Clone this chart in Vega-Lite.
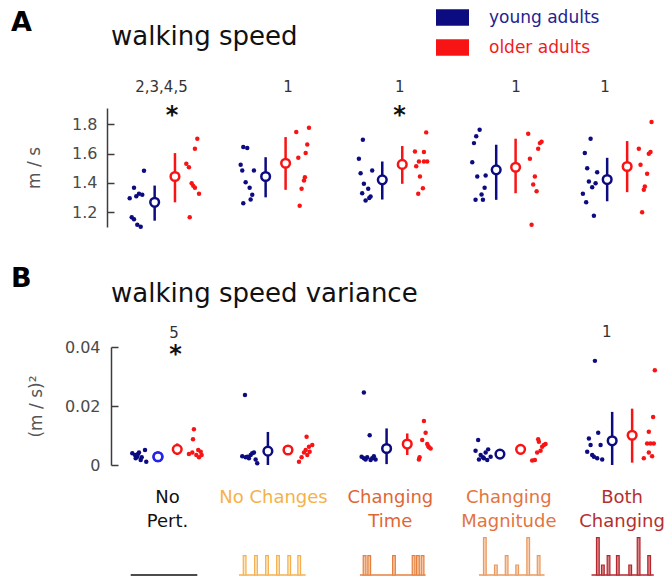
{
  "$schema": "https://vega.github.io/schema/vega-lite/v6.json",
  "autosize": {"type": "pad"},
  "padding": {"left": 11, "top": 1, "right": 10, "bottom": 0},
  "config": {
    "font": "DejaVu Sans",
    "view": {"stroke": null},
    "axis": {
      "grid": false,
      "domainColor": "#3c3c3c",
      "domainWidth": 1.5,
      "tickColor": "#3c3c3c",
      "tickWidth": 1.5,
      "labelColor": "#4a4a4a",
      "labelFontSize": 16,
      "labelOverlap": false,
      "titleColor": "#555555",
      "titleFontSize": 17,
      "titleFontWeight": "normal"
    },
    "text": {"font": "DejaVu Sans"}
  },
  "datasets": {
    "speedDots": [
      {"g": 1, "age": "young adults", "pos": 0.826, "v": 1.483},
      {"g": 1, "age": "young adults", "pos": 0.738, "v": 1.367},
      {"g": 1, "age": "young adults", "pos": 0.700, "v": 1.296},
      {"g": 1, "age": "young adults", "pos": 0.758, "v": 1.309},
      {"g": 1, "age": "young adults", "pos": 0.782, "v": 1.326},
      {"g": 1, "age": "young adults", "pos": 0.811, "v": 1.319},
      {"g": 1, "age": "young adults", "pos": 0.718, "v": 1.166},
      {"g": 1, "age": "young adults", "pos": 0.738, "v": 1.152},
      {"g": 1, "age": "young adults", "pos": 0.767, "v": 1.116},
      {"g": 1, "age": "young adults", "pos": 0.797, "v": 1.102},
      {"g": 1, "age": "older adults", "pos": 1.296, "v": 1.701},
      {"g": 1, "age": "older adults", "pos": 1.275, "v": 1.633},
      {"g": 1, "age": "older adults", "pos": 1.199, "v": 1.530},
      {"g": 1, "age": "older adults", "pos": 1.222, "v": 1.507},
      {"g": 1, "age": "older adults", "pos": 1.246, "v": 1.398},
      {"g": 1, "age": "older adults", "pos": 1.260, "v": 1.380},
      {"g": 1, "age": "older adults", "pos": 1.275, "v": 1.367},
      {"g": 1, "age": "older adults", "pos": 1.311, "v": 1.326},
      {"g": 1, "age": "older adults", "pos": 1.229, "v": 1.166},
      {"g": 2, "age": "young adults", "pos": 1.701, "v": 1.644},
      {"g": 2, "age": "young adults", "pos": 1.736, "v": 1.637},
      {"g": 2, "age": "young adults", "pos": 1.678, "v": 1.523},
      {"g": 2, "age": "young adults", "pos": 1.692, "v": 1.485},
      {"g": 2, "age": "young adults", "pos": 1.795, "v": 1.485},
      {"g": 2, "age": "young adults", "pos": 1.722, "v": 1.405},
      {"g": 2, "age": "young adults", "pos": 1.757, "v": 1.367},
      {"g": 2, "age": "young adults", "pos": 1.780, "v": 1.319},
      {"g": 2, "age": "young adults", "pos": 1.766, "v": 1.287},
      {"g": 2, "age": "young adults", "pos": 1.701, "v": 1.261},
      {"g": 2, "age": "older adults", "pos": 2.280, "v": 1.776},
      {"g": 2, "age": "older adults", "pos": 2.168, "v": 1.746},
      {"g": 2, "age": "older adults", "pos": 2.265, "v": 1.662},
      {"g": 2, "age": "older adults", "pos": 2.251, "v": 1.603},
      {"g": 2, "age": "older adults", "pos": 2.186, "v": 1.571},
      {"g": 2, "age": "older adults", "pos": 2.244, "v": 1.439},
      {"g": 2, "age": "older adults", "pos": 2.236, "v": 1.416},
      {"g": 2, "age": "older adults", "pos": 2.215, "v": 1.360},
      {"g": 2, "age": "older adults", "pos": 2.198, "v": 1.244},
      {"g": 3, "age": "young adults", "pos": 2.755, "v": 1.694},
      {"g": 3, "age": "young adults", "pos": 2.720, "v": 1.565},
      {"g": 3, "age": "young adults", "pos": 2.837, "v": 1.485},
      {"g": 3, "age": "young adults", "pos": 2.735, "v": 1.466},
      {"g": 3, "age": "young adults", "pos": 2.764, "v": 1.394},
      {"g": 3, "age": "young adults", "pos": 2.802, "v": 1.360},
      {"g": 3, "age": "young adults", "pos": 2.749, "v": 1.330},
      {"g": 3, "age": "young adults", "pos": 2.823, "v": 1.307},
      {"g": 3, "age": "young adults", "pos": 2.779, "v": 1.280},
      {"g": 3, "age": "young adults", "pos": 2.811, "v": 1.298},
      {"g": 3, "age": "older adults", "pos": 3.313, "v": 1.744},
      {"g": 3, "age": "older adults", "pos": 3.214, "v": 1.614},
      {"g": 3, "age": "older adults", "pos": 3.293, "v": 1.610},
      {"g": 3, "age": "older adults", "pos": 3.249, "v": 1.546},
      {"g": 3, "age": "older adults", "pos": 3.293, "v": 1.546},
      {"g": 3, "age": "older adults", "pos": 3.322, "v": 1.546},
      {"g": 3, "age": "older adults", "pos": 3.225, "v": 1.514},
      {"g": 3, "age": "older adults", "pos": 3.258, "v": 1.444},
      {"g": 3, "age": "older adults", "pos": 3.284, "v": 1.364},
      {"g": 3, "age": "older adults", "pos": 3.243, "v": 1.326},
      {"g": 4, "age": "young adults", "pos": 3.784, "v": 1.762},
      {"g": 4, "age": "young adults", "pos": 3.754, "v": 1.717},
      {"g": 4, "age": "young adults", "pos": 3.734, "v": 1.671},
      {"g": 4, "age": "young adults", "pos": 3.719, "v": 1.541},
      {"g": 4, "age": "young adults", "pos": 3.837, "v": 1.450},
      {"g": 4, "age": "young adults", "pos": 3.763, "v": 1.444},
      {"g": 4, "age": "young adults", "pos": 3.828, "v": 1.367},
      {"g": 4, "age": "young adults", "pos": 3.801, "v": 1.321},
      {"g": 4, "age": "young adults", "pos": 3.748, "v": 1.285},
      {"g": 4, "age": "young adults", "pos": 3.813, "v": 1.285},
      {"g": 4, "age": "older adults", "pos": 4.212, "v": 1.735},
      {"g": 4, "age": "older adults", "pos": 4.315, "v": 1.671},
      {"g": 4, "age": "older adults", "pos": 4.330, "v": 1.680},
      {"g": 4, "age": "older adults", "pos": 4.300, "v": 1.633},
      {"g": 4, "age": "older adults", "pos": 4.227, "v": 1.565},
      {"g": 4, "age": "older adults", "pos": 4.271, "v": 1.444},
      {"g": 4, "age": "older adults", "pos": 4.256, "v": 1.389},
      {"g": 4, "age": "older adults", "pos": 4.286, "v": 1.343},
      {"g": 4, "age": "older adults", "pos": 4.242, "v": 1.116},
      {"g": 5, "age": "young adults", "pos": 4.762, "v": 1.701},
      {"g": 5, "age": "young adults", "pos": 4.711, "v": 1.603},
      {"g": 5, "age": "young adults", "pos": 4.732, "v": 1.500},
      {"g": 5, "age": "young adults", "pos": 4.820, "v": 1.473},
      {"g": 5, "age": "young adults", "pos": 4.747, "v": 1.410},
      {"g": 5, "age": "young adults", "pos": 4.806, "v": 1.398},
      {"g": 5, "age": "young adults", "pos": 4.776, "v": 1.371},
      {"g": 5, "age": "young adults", "pos": 4.694, "v": 1.326},
      {"g": 5, "age": "young adults", "pos": 4.723, "v": 1.268},
      {"g": 5, "age": "young adults", "pos": 4.791, "v": 1.177},
      {"g": 5, "age": "older adults", "pos": 5.299, "v": 1.814},
      {"g": 5, "age": "older adults", "pos": 5.187, "v": 1.633},
      {"g": 5, "age": "older adults", "pos": 5.290, "v": 1.610},
      {"g": 5, "age": "older adults", "pos": 5.275, "v": 1.599},
      {"g": 5, "age": "older adults", "pos": 5.202, "v": 1.523},
      {"g": 5, "age": "older adults", "pos": 5.260, "v": 1.462},
      {"g": 5, "age": "older adults", "pos": 5.240, "v": 1.375},
      {"g": 5, "age": "older adults", "pos": 5.231, "v": 1.353},
      {"g": 5, "age": "older adults", "pos": 5.216, "v": 1.200}
    ],
    "speedMeans": [
      {"g": 1, "age": "young adults", "pos": 0.920, "mean": 1.268, "lo": 1.143, "hi": 1.382},
      {"g": 1, "age": "older adults", "pos": 1.099, "mean": 1.444, "lo": 1.268, "hi": 1.603},
      {"g": 2, "age": "young adults", "pos": 1.898, "mean": 1.444, "lo": 1.302, "hi": 1.575},
      {"g": 2, "age": "older adults", "pos": 2.074, "mean": 1.534, "lo": 1.353, "hi": 1.712},
      {"g": 3, "age": "young adults", "pos": 2.926, "mean": 1.421, "lo": 1.287, "hi": 1.546},
      {"g": 3, "age": "older adults", "pos": 3.102, "mean": 1.526, "lo": 1.394, "hi": 1.651},
      {"g": 4, "age": "young adults", "pos": 3.930, "mean": 1.489, "lo": 1.285, "hi": 1.660},
      {"g": 4, "age": "older adults", "pos": 4.101, "mean": 1.507, "lo": 1.330, "hi": 1.701},
      {"g": 5, "age": "young adults", "pos": 4.908, "mean": 1.423, "lo": 1.275, "hi": 1.571},
      {"g": 5, "age": "older adults", "pos": 5.084, "mean": 1.512, "lo": 1.337, "hi": 1.685}
    ],
    "speedNotes": [
      {"label": "2,3,4,5", "pos": 0.980, "v": 2.053},
      {"label": "1", "pos": 2.095, "v": 2.053},
      {"label": "1", "pos": 3.081, "v": 2.053},
      {"label": "1", "pos": 4.104, "v": 2.053},
      {"label": "1", "pos": 4.888, "v": 2.053}
    ],
    "speedStars": [
      {"pos": 1.073, "v": 1.854},
      {"pos": 3.079, "v": 1.854}
    ],
    "varDots": [
      {"g": 1, "age": "young adults", "pos": 0.723, "v": 0.0040},
      {"g": 1, "age": "young adults", "pos": 0.747, "v": 0.0034},
      {"g": 1, "age": "young adults", "pos": 0.767, "v": 0.0028},
      {"g": 1, "age": "young adults", "pos": 0.782, "v": 0.0042},
      {"g": 1, "age": "young adults", "pos": 0.806, "v": 0.0026},
      {"g": 1, "age": "young adults", "pos": 0.835, "v": 0.0051},
      {"g": 1, "age": "young adults", "pos": 0.846, "v": 0.0011},
      {"g": 1, "age": "young adults", "pos": 0.797, "v": 0.0017},
      {"g": 1, "age": "young adults", "pos": 0.753, "v": 0.0023},
      {"g": 1, "age": "young adults", "pos": 0.773, "v": 0.0037},
      {"g": 1, "age": "older adults", "pos": 1.266, "v": 0.0121},
      {"g": 1, "age": "older adults", "pos": 1.258, "v": 0.0087},
      {"g": 1, "age": "older adults", "pos": 1.222, "v": 0.0037},
      {"g": 1, "age": "older adults", "pos": 1.252, "v": 0.0042},
      {"g": 1, "age": "older adults", "pos": 1.287, "v": 0.0034},
      {"g": 1, "age": "older adults", "pos": 1.326, "v": 0.0045},
      {"g": 1, "age": "older adults", "pos": 1.334, "v": 0.0034},
      {"g": 1, "age": "older adults", "pos": 1.311, "v": 0.0026},
      {"g": 1, "age": "older adults", "pos": 1.304, "v": 0.0051},
      {"g": 2, "age": "young adults", "pos": 1.716, "v": 0.0237},
      {"g": 2, "age": "young adults", "pos": 1.692, "v": 0.0030},
      {"g": 2, "age": "young adults", "pos": 1.722, "v": 0.0026},
      {"g": 2, "age": "young adults", "pos": 1.766, "v": 0.0034},
      {"g": 2, "age": "young adults", "pos": 1.780, "v": 0.0040},
      {"g": 2, "age": "young adults", "pos": 1.810, "v": 0.0019},
      {"g": 2, "age": "young adults", "pos": 1.824, "v": 0.0006},
      {"g": 2, "age": "young adults", "pos": 1.795, "v": 0.0042},
      {"g": 2, "age": "young adults", "pos": 1.751, "v": 0.0023},
      {"g": 2, "age": "young adults", "pos": 1.736, "v": 0.0028},
      {"g": 2, "age": "older adults", "pos": 2.259, "v": 0.0096},
      {"g": 2, "age": "older adults", "pos": 2.309, "v": 0.0068},
      {"g": 2, "age": "older adults", "pos": 2.280, "v": 0.0062},
      {"g": 2, "age": "older adults", "pos": 2.251, "v": 0.0051},
      {"g": 2, "age": "older adults", "pos": 2.236, "v": 0.0042},
      {"g": 2, "age": "older adults", "pos": 2.265, "v": 0.0034},
      {"g": 2, "age": "older adults", "pos": 2.215, "v": 0.0026},
      {"g": 2, "age": "older adults", "pos": 2.192, "v": 0.0011},
      {"g": 2, "age": "older adults", "pos": 2.286, "v": 0.0045},
      {"g": 3, "age": "young adults", "pos": 2.764, "v": 0.0246},
      {"g": 3, "age": "young adults", "pos": 2.815, "v": 0.0101},
      {"g": 3, "age": "young adults", "pos": 2.744, "v": 0.0028},
      {"g": 3, "age": "young adults", "pos": 2.764, "v": 0.0023},
      {"g": 3, "age": "young adults", "pos": 2.793, "v": 0.0026},
      {"g": 3, "age": "young adults", "pos": 2.823, "v": 0.0017},
      {"g": 3, "age": "young adults", "pos": 2.852, "v": 0.0030},
      {"g": 3, "age": "young adults", "pos": 2.867, "v": 0.0019},
      {"g": 3, "age": "young adults", "pos": 2.837, "v": 0.0023},
      {"g": 3, "age": "young adults", "pos": 2.779, "v": 0.0019},
      {"g": 3, "age": "older adults", "pos": 3.293, "v": 0.0149},
      {"g": 3, "age": "older adults", "pos": 3.308, "v": 0.0109},
      {"g": 3, "age": "older adults", "pos": 3.278, "v": 0.0085},
      {"g": 3, "age": "older adults", "pos": 3.331, "v": 0.0064},
      {"g": 3, "age": "older adults", "pos": 3.352, "v": 0.0056},
      {"g": 3, "age": "older adults", "pos": 3.255, "v": 0.0026},
      {"g": 3, "age": "older adults", "pos": 3.249, "v": 0.0019},
      {"g": 3, "age": "older adults", "pos": 3.322, "v": 0.0071},
      {"g": 3, "age": "older adults", "pos": 3.337, "v": 0.0060},
      {"g": 4, "age": "young adults", "pos": 3.771, "v": 0.0085},
      {"g": 4, "age": "young adults", "pos": 3.748, "v": 0.0048},
      {"g": 4, "age": "young adults", "pos": 3.793, "v": 0.0034},
      {"g": 4, "age": "young adults", "pos": 3.813, "v": 0.0026},
      {"g": 4, "age": "young adults", "pos": 3.837, "v": 0.0042},
      {"g": 4, "age": "young adults", "pos": 3.859, "v": 0.0053},
      {"g": 4, "age": "young adults", "pos": 3.881, "v": 0.0028},
      {"g": 4, "age": "young adults", "pos": 3.778, "v": 0.0019},
      {"g": 4, "age": "young adults", "pos": 3.851, "v": 0.0017},
      {"g": 4, "age": "young adults", "pos": 3.822, "v": 0.0023},
      {"g": 4, "age": "older adults", "pos": 4.300, "v": 0.0087},
      {"g": 4, "age": "older adults", "pos": 4.365, "v": 0.0071},
      {"g": 4, "age": "older adults", "pos": 4.335, "v": 0.0062},
      {"g": 4, "age": "older adults", "pos": 4.321, "v": 0.0048},
      {"g": 4, "age": "older adults", "pos": 4.291, "v": 0.0042},
      {"g": 4, "age": "older adults", "pos": 4.271, "v": 0.0017},
      {"g": 4, "age": "older adults", "pos": 4.247, "v": 0.0015},
      {"g": 4, "age": "older adults", "pos": 4.350, "v": 0.0068},
      {"g": 4, "age": "older adults", "pos": 4.306, "v": 0.0079},
      {"g": 5, "age": "young adults", "pos": 4.800, "v": 0.0353},
      {"g": 5, "age": "young adults", "pos": 4.829, "v": 0.0109},
      {"g": 5, "age": "young adults", "pos": 4.747, "v": 0.0090},
      {"g": 5, "age": "young adults", "pos": 4.850, "v": 0.0068},
      {"g": 5, "age": "young adults", "pos": 4.762, "v": 0.0068},
      {"g": 5, "age": "young adults", "pos": 4.732, "v": 0.0045},
      {"g": 5, "age": "young adults", "pos": 4.776, "v": 0.0034},
      {"g": 5, "age": "young adults", "pos": 4.820, "v": 0.0023},
      {"g": 5, "age": "young adults", "pos": 4.864, "v": 0.0019},
      {"g": 5, "age": "young adults", "pos": 4.791, "v": 0.0028},
      {"g": 5, "age": "older adults", "pos": 5.328, "v": 0.0321},
      {"g": 5, "age": "older adults", "pos": 5.313, "v": 0.0163},
      {"g": 5, "age": "older adults", "pos": 5.275, "v": 0.0113},
      {"g": 5, "age": "older adults", "pos": 5.260, "v": 0.0073},
      {"g": 5, "age": "older adults", "pos": 5.319, "v": 0.0073},
      {"g": 5, "age": "older adults", "pos": 5.290, "v": 0.0073},
      {"g": 5, "age": "older adults", "pos": 5.304, "v": 0.0030},
      {"g": 5, "age": "older adults", "pos": 5.231, "v": 0.0023},
      {"g": 5, "age": "older adults", "pos": 5.275, "v": 0.0042}
    ],
    "varMeans": [
      {"g": 1, "age": "young adults", "pos": 0.949, "mean": 0.0028, "lo": 0.0016, "hi": 0.0040},
      {"g": 1, "age": "older adults", "pos": 1.119, "mean": 0.0053, "lo": 0.0034, "hi": 0.0073},
      {"g": 2, "age": "young adults", "pos": 1.918, "mean": 0.0047, "lo": 0.0000, "hi": 0.0112},
      {"g": 2, "age": "older adults", "pos": 2.095, "mean": 0.0051, "lo": 0.0038, "hi": 0.0064},
      {"g": 3, "age": "young adults", "pos": 2.964, "mean": 0.0056, "lo": 0.0003, "hi": 0.0124},
      {"g": 3, "age": "older adults", "pos": 3.146, "mean": 0.0071, "lo": 0.0034, "hi": 0.0107},
      {"g": 4, "age": "young adults", "pos": 3.963, "mean": 0.0037, "lo": 0.0024, "hi": 0.0050},
      {"g": 4, "age": "older adults", "pos": 4.145, "mean": 0.0053, "lo": 0.0036, "hi": 0.0070},
      {"g": 5, "age": "young adults", "pos": 4.952, "mean": 0.0082, "lo": 0.0000, "hi": 0.0180},
      {"g": 5, "age": "older adults", "pos": 5.128, "mean": 0.0101, "lo": 0.0008, "hi": 0.0191}
    ],
    "varNotes": [
      {"label": "5", "pos": 1.090, "v": 0.0446},
      {"label": "1", "pos": 4.905, "v": 0.0451}
    ],
    "varStars": [
      {"pos": 1.105, "v": 0.0372}
    ],
    "baselines": [
      {"cond": "No Pert.", "t0": 0.709, "t1": 1.296, "level": 0},
      {"cond": "No Changes", "t0": 1.663, "t1": 2.251, "level": 0},
      {"cond": "Changing Time", "t0": 2.729, "t1": 3.308, "level": 0},
      {"cond": "Changing Magnitude", "t0": 3.778, "t1": 4.356, "level": 0},
      {"cond": "Both Changing", "t0": 4.770, "t1": 5.319, "level": 0}
    ],
    "pulses": [
      {"cond": "No Changes", "t0": 1.701, "t1": 1.725, "level": 0, "amp": 1.93},
      {"cond": "No Changes", "t0": 1.801, "t1": 1.825, "level": 0, "amp": 1.93},
      {"cond": "No Changes", "t0": 1.898, "t1": 1.922, "level": 0, "amp": 1.93},
      {"cond": "No Changes", "t0": 1.995, "t1": 2.019, "level": 0, "amp": 1.93},
      {"cond": "No Changes", "t0": 2.094, "t1": 2.118, "level": 0, "amp": 1.93},
      {"cond": "No Changes", "t0": 2.182, "t1": 2.206, "level": 0, "amp": 1.93},
      {"cond": "Changing Time", "t0": 2.758, "t1": 2.782, "level": 0, "amp": 1.93},
      {"cond": "Changing Time", "t0": 2.799, "t1": 2.823, "level": 0, "amp": 1.93},
      {"cond": "Changing Time", "t0": 3.017, "t1": 3.041, "level": 0, "amp": 1.93},
      {"cond": "Changing Time", "t0": 3.190, "t1": 3.214, "level": 0, "amp": 1.93},
      {"cond": "Changing Time", "t0": 3.228, "t1": 3.252, "level": 0, "amp": 1.93},
      {"cond": "Changing Time", "t0": 3.269, "t1": 3.293, "level": 0, "amp": 1.93},
      {"cond": "Changing Magnitude", "t0": 3.818, "t1": 3.842, "level": 0, "amp": 3.73},
      {"cond": "Changing Magnitude", "t0": 3.915, "t1": 3.939, "level": 0, "amp": 1.0},
      {"cond": "Changing Magnitude", "t0": 4.010, "t1": 4.034, "level": 0, "amp": 1.93},
      {"cond": "Changing Magnitude", "t0": 4.103, "t1": 4.127, "level": 0, "amp": 1.0},
      {"cond": "Changing Magnitude", "t0": 4.200, "t1": 4.224, "level": 0, "amp": 3.73},
      {"cond": "Changing Magnitude", "t0": 4.292, "t1": 4.316, "level": 0, "amp": 1.93},
      {"cond": "Both Changing", "t0": 4.814, "t1": 4.838, "level": 0, "amp": 3.73},
      {"cond": "Both Changing", "t0": 4.858, "t1": 4.882, "level": 0, "amp": 1.0},
      {"cond": "Both Changing", "t0": 4.908, "t1": 4.932, "level": 0, "amp": 1.93},
      {"cond": "Both Changing", "t0": 4.990, "t1": 5.014, "level": 0, "amp": 1.93},
      {"cond": "Both Changing", "t0": 5.099, "t1": 5.123, "level": 0, "amp": 1.0},
      {"cond": "Both Changing", "t0": 5.173, "t1": 5.197, "level": 0, "amp": 3.73},
      {"cond": "Both Changing", "t0": 5.266, "t1": 5.290, "level": 0, "amp": 1.93}
    ]
  },
  "spacing": 35,
  "vconcat": [
    {
      "width": 556,
      "height": 119,
      "layer": [
        {
          "data": {"name": "speedMeans"},
          "mark": {"type": "rule", "strokeWidth": 2.5},
          "encoding": {
            "x": {"field": "pos", "type": "quantitative", "scale": {"domain": [0.5, 5.4], "nice": false, "zero": false}, "axis": null},
            "y": {
              "field": "lo", "type": "quantitative",
              "scale": {"domain": [1.1, 1.91], "nice": false, "zero": false},
              "axis": {"tickCount": 4, "format": ".1f", "tickSize": -7, "labelPadding": 17, "labelOverlap": false, "labelSeparation": 0, "labelBound": false, "labelFlush": false, "title": "m / s", "titlePadding": 28}
            },
            "y2": {"field": "hi"},
            "color": {"field": "age", "type": "nominal", "scale": {"domain": ["young adults", "older adults"], "range": ["#0c0c80", "#f81414"]}}
          }
        },
        {
          "data": {"name": "speedDots"},
          "mark": {"type": "circle", "size": 20, "opacity": 1},
          "encoding": {
            "x": {"field": "pos", "type": "quantitative"},
            "y": {"field": "v", "type": "quantitative"},
            "color": {
              "field": "age", "type": "nominal",
              "legend": {
                "orient": "none", "legendX": 329, "legendY": -107, "title": null,
                "symbolType": "M-1,-0.5H1V0.5H-1Z", "symbolSize": 1089, "symbolStrokeWidth": 0,
                "labelFontSize": 17, "labelOffset": 20, "rowPadding": 5, "padding": 0,
                "labelColor": {"expr": "datum.label == 'young adults' ? '#23238f' : '#f01c1c'"}
              }
            }
          }
        },
        {
          "data": {"name": "speedMeans"},
          "mark": {"type": "point", "shape": "circle", "filled": false, "fill": "white", "fillOpacity": 1, "size": 75, "strokeWidth": 2.5, "opacity": 1},
          "encoding": {
            "x": {"field": "pos", "type": "quantitative"},
            "y": {"field": "mean", "type": "quantitative"},
            "color": {"field": "age", "type": "nominal"}
          }
        },
        {
          "data": {"name": "speedNotes"},
          "mark": {"type": "text", "fontSize": 15, "color": "#333333", "baseline": "middle"},
          "encoding": {
            "x": {"field": "pos", "type": "quantitative"},
            "y": {"field": "v", "type": "quantitative"},
            "text": {"field": "label"}
          }
        },
        {
          "data": {"name": "speedStars"},
          "mark": {"type": "text", "fontSize": 24, "fontWeight": "bold", "color": "#111111", "baseline": "middle", "text": "*"},
          "encoding": {
            "x": {"field": "pos", "type": "quantitative"},
            "y": {"field": "v", "type": "quantitative"}
          }
        },
        {
          "data": {"values": [{"letter": "A", "heading": "walking speed", "lx": -0.346, "ly": 2.489, "hx": 0.535, "hy": 2.339}]},
          "mark": {"type": "text", "fontSize": 27, "fontWeight": "bold", "color": "#000000", "align": "left", "baseline": "middle"},
          "encoding": {"x": {"field": "lx", "type": "quantitative"}, "y": {"field": "ly", "type": "quantitative"}, "text": {"field": "letter"}}
        },
        {
          "data": {"values": [{"letter": "A", "heading": "walking speed", "lx": -0.346, "ly": 2.489, "hx": 0.535, "hy": 2.339}]},
          "mark": {"type": "text", "fontSize": 26, "color": "#111111", "align": "left", "baseline": "alphabetic"},
          "encoding": {"x": {"field": "hx", "type": "quantitative"}, "y": {"field": "hy", "type": "quantitative"}, "text": {"field": "heading"}}
        }
      ]
    },
    {
      "spacing": 5,
      "vconcat": [
        {
          "width": 556,
          "height": 118,
          "layer": [
            {
              "data": {"name": "varMeans"},
              "mark": {"type": "rule", "strokeWidth": 2.5},
              "encoding": {
                "x": {
                  "field": "pos", "type": "quantitative",
                  "scale": {"domain": [0.5, 5.4], "nice": false, "zero": false},
                  "axis": {
                    "values": [1.029, 1.963, 2.993, 4.037, 5.035],
                    "labelExpr": "round(datum.value) == 1 ? ['No', 'Pert.'] : round(datum.value) == 2 ? ['No Changes'] : round(datum.value) == 3 ? ['Changing', 'Time'] : round(datum.value) == 4 ? ['Changing', 'Magnitude'] : ['Both', 'Changing']",
                    "labelColor": {"expr": "round(datum.value) == 1 ? '#111111' : round(datum.value) == 2 ? '#f5b24a' : round(datum.value) == 3 ? '#df6636' : round(datum.value) == 4 ? '#e3743f' : '#b52f2f'"},
                    "domain": false, "ticks": false, "title": null,
                    "labelFontSize": 18, "labelLineHeight": 24, "labelPadding": 23,
                    "labelFlush": false, "labelBound": false
                  }
                },
                "y": {
                  "field": "lo", "type": "quantitative",
                  "scale": {"domain": [0, 0.04], "nice": false, "zero": false},
                  "axis": {"values": [0, 0.02, 0.04], "labelExpr": "datum.value == 0 ? '0' : format(datum.value, '.2f')", "tickSize": -7, "labelPadding": 18, "offset": -4, "title": "(m / s)²", "titlePadding": 19}
                },
                "y2": {"field": "hi"},
                "color": {"field": "age", "type": "nominal"}
              }
            },
            {
              "data": {"name": "varDots"},
              "mark": {"type": "circle", "size": 20, "opacity": 1},
              "encoding": {
                "x": {"field": "pos", "type": "quantitative"},
                "y": {"field": "v", "type": "quantitative"},
                "color": {"field": "age", "type": "nominal"}
              }
            },
            {
              "data": {"name": "varMeans"},
              "mark": {"type": "point", "shape": "circle", "filled": false, "fill": "white", "fillOpacity": 1, "size": 75, "strokeWidth": 2.5, "opacity": 1},
              "encoding": {
                "x": {"field": "pos", "type": "quantitative"},
                "y": {"field": "mean", "type": "quantitative"},
                "color": {"field": "age", "type": "nominal"}
              }
            },
            {
              "data": {"name": "varMeans"},
              "transform": [{"filter": "datum.g == 1 && datum.age == 'young adults'"}],
              "mark": {"type": "point", "shape": "circle", "filled": false, "fill": "white", "fillOpacity": 1, "size": 75, "strokeWidth": 2.5, "opacity": 1, "stroke": "#2424f2"},
              "encoding": {
                "x": {"field": "pos", "type": "quantitative"},
                "y": {"field": "mean", "type": "quantitative"}
              }
            },
            {
              "data": {"name": "varNotes"},
              "mark": {"type": "text", "fontSize": 15, "color": "#333333", "baseline": "middle"},
              "encoding": {
                "x": {"field": "pos", "type": "quantitative"},
                "y": {"field": "v", "type": "quantitative"},
                "text": {"field": "label"}
              }
            },
            {
              "data": {"name": "varStars"},
              "mark": {"type": "text", "fontSize": 24, "fontWeight": "bold", "color": "#111111", "baseline": "middle", "text": "*"},
              "encoding": {
                "x": {"field": "pos", "type": "quantitative"},
                "y": {"field": "v", "type": "quantitative"}
              }
            },
            {
              "data": {"values": [{"letter": "B", "heading": "walking speed variance", "lx": -0.346, "ly": 0.0631, "hx": 0.535, "hy": 0.0551}]},
              "mark": {"type": "text", "fontSize": 27, "fontWeight": "bold", "color": "#000000", "align": "left", "baseline": "middle"},
              "encoding": {"x": {"field": "lx", "type": "quantitative"}, "y": {"field": "ly", "type": "quantitative"}, "text": {"field": "letter"}}
            },
            {
              "data": {"values": [{"letter": "B", "heading": "walking speed variance", "lx": -0.346, "ly": 0.0631, "hx": 0.535, "hy": 0.0551}]},
              "mark": {"type": "text", "fontSize": 26, "color": "#111111", "align": "left", "baseline": "alphabetic"},
              "encoding": {"x": {"field": "hx", "type": "quantitative"}, "y": {"field": "hy", "type": "quantitative"}, "text": {"field": "heading"}}
            }
          ]
        },
        {
          "width": 556,
          "height": 40,
          "layer": [
            {
              "data": {"name": "baselines"},
              "mark": {"type": "rule", "strokeWidth": 1.6},
              "encoding": {
                "x": {"field": "t0", "type": "quantitative", "scale": {"domain": [0.5, 5.4], "nice": false, "zero": false}, "axis": null},
                "x2": {"field": "t1"},
                "y": {"field": "level", "type": "quantitative", "scale": {"domain": [0, 4], "nice": false, "zero": false}, "axis": null},
                "stroke": {
                  "field": "cond", "type": "nominal", "legend": null,
                  "scale": {"domain": ["No Pert.", "No Changes", "Changing Time", "Changing Magnitude", "Both Changing"], "range": ["#111111", "#f6b14f", "#e6803f", "#eb9a60", "#b5272e"]}
                }
              }
            },
            {
              "data": {"name": "pulses"},
              "mark": {"type": "rect", "strokeWidth": 1.2},
              "encoding": {
                "x": {"field": "t0", "type": "quantitative"},
                "x2": {"field": "t1"},
                "y": {"field": "amp", "type": "quantitative"},
                "y2": {"field": "level"},
                "stroke": {"field": "cond", "type": "nominal", "legend": null},
                "fill": {
                  "field": "cond", "type": "nominal", "legend": null,
                  "scale": {"domain": ["No Pert.", "No Changes", "Changing Time", "Changing Magnitude", "Both Changing"], "range": ["#ffffff", "#fde6bf", "#f6c6a3", "#f7d0b3", "#d58386"]}
                }
              }
            }
          ]
        }
      ]
    }
  ]
}
